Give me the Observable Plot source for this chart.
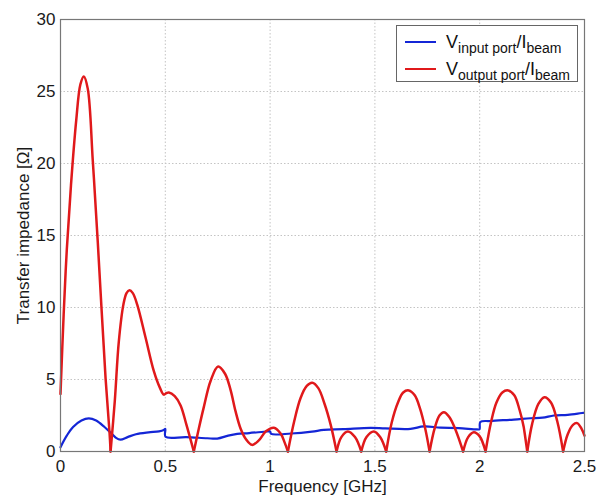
<!DOCTYPE html>
<html>
<head>
<meta charset="utf-8">
<script src="https://cdn.jsdelivr.net/npm/d3@7"></script>
<script src="https://cdn.jsdelivr.net/npm/@observablehq/plot@0.6"></script>
<style>
  body { margin: 0; background: #fff; }
  #wrap { position: relative; width: 597px; height: 497px; font-family: "Liberation Sans", Arial, sans-serif; }
  #legend { position: absolute; left: 396px; top: 25px; width: 182px; height: 57px; border: 1px solid #666; background: #fff; box-sizing: border-box; }
  .row { position: absolute; left: 8px; height: 26px; display: flex; align-items: center; }
  .swatch { width: 31px; height: 0; border-top: 2.5px solid; margin-right: 10px; }
  .lab { font-size: 18px; color: #111; white-space: nowrap; line-height: 18px; }
  .lab sub { font-size: 14px; vertical-align: -5px; line-height: 0; }
</style>
</head>
<body>
<div id="wrap"></div>
<script>
// ---- data ----
const xTicks = [0, 0.5, 1, 1.5, 2, 2.5];
const yTicks = [0, 5, 10, 15, 20, 25, 30];
const xLabel = "Frequency [GHz]";
const yLabel = "Transfer impedance [Ω]";
const seriesMain = ["V", "V"];
const seriesSub = ["input port", "output port"];
const denomMain = "I";
const denomSub = "beam";
const seriesColors = ["#1426d6", "#e0191b"];

// V_input port / I_beam  (blue)
const blueFreq = [0, 0.03, 0.06, 0.1, 0.135, 0.17, 0.21, 0.24, 0.265, 0.286, 0.32, 0.36, 0.42, 0.47, 0.493, 0.5, 0.501, 0.6, 0.7, 0.748, 0.8, 0.843, 0.9, 0.986, 1.0, 1.005, 1.1, 1.2, 1.256, 1.35, 1.479, 1.55, 1.67, 1.733, 1.813, 1.9, 1.988, 1.999, 2.003, 2.05, 2.163, 2.242, 2.3, 2.354, 2.42, 2.497];
const blueImp  = [0.3, 1.1, 1.7, 2.15, 2.3, 2.15, 1.7, 1.3, 0.95, 0.83, 1.0, 1.2, 1.33, 1.4, 1.5, 1.57, 1.02, 1.0, 0.92, 0.9, 1.1, 1.22, 1.28, 1.39, 1.4, 1.22, 1.25, 1.38, 1.5, 1.55, 1.64, 1.6, 1.57, 1.74, 1.66, 1.63, 1.53, 1.55, 2.05, 2.12, 2.22, 2.31, 2.35, 2.5, 2.55, 2.69];

// V_output port / I_beam  (red)
const redFreq = [0, 0.015, 0.03, 0.05, 0.075, 0.095, 0.111, 0.13, 0.154, 0.178, 0.215, 0.234, 0.239,
  0.259, 0.278, 0.3, 0.315, 0.329, 0.345, 0.366, 0.406, 0.445, 0.475, 0.493, 0.505, 0.517, 0.545, 0.573, 0.6, 0.636,
  0.66, 0.684, 0.716, 0.752, 0.785, 0.811, 0.835, 0.859, 0.885, 0.914, 0.945, 0.98, 1.018, 1.05, 1.07, 1.085,
  1.115, 1.145, 1.175, 1.201, 1.23, 1.26, 1.29, 1.317,
  1.34, 1.371, 1.405, 1.435,
  1.46, 1.495, 1.525, 1.554,
  1.58, 1.61, 1.635, 1.662, 1.69, 1.715, 1.74, 1.761,
  1.785, 1.808, 1.829, 1.855, 1.885, 1.921,
  1.945, 1.972, 2.0, 2.028,
  2.055, 2.08, 2.108, 2.136, 2.165, 2.19, 2.21, 2.227,
  2.25, 2.28, 2.309, 2.34, 2.37, 2.398,
  2.42, 2.445, 2.465, 2.485, 2.5];
const redImp = [4.0, 9.5, 14.0, 18.5, 23.0, 25.5, 26.05, 25.2, 20.2, 14.5, 5.1, 1.3, 0,
  3.5, 7.6, 10.2, 11.0, 11.2, 11.0, 10.2, 7.9, 5.6, 4.4, 3.95, 4.05, 4.1, 3.85, 3.2, 1.9, 0,
  1.6, 3.1, 4.9, 5.9, 5.4, 4.3, 2.8, 1.6, 0.85, 0.46, 0.75, 1.4, 1.65, 1.25, 0.6, 0,
  2.1, 3.7, 4.55, 4.77, 4.4, 3.3, 1.8, 0,
  1.0, 1.39, 1.0, 0,
  1.0, 1.39, 1.0, 0,
  2.0, 3.4, 4.1, 4.24, 3.9, 3.0, 1.6, 0,
  1.6, 2.5, 2.73, 2.4, 1.5, 0,
  1.0, 1.34, 1.05, 0,
  2.1, 3.4, 4.1, 4.24, 3.9, 2.9, 1.7, 0,
  1.9, 3.3, 3.77, 3.4, 2.1, 0,
  1.2, 1.85, 1.97, 1.6, 1.1];

// ---- build tables ----
const blue = blueFreq.map((f, i) => ({f, v: blueImp[i]}));
// split the red curve into lobes at its zeros so each zero is a sharp cusp
const red = [];
let seg = 0;
redFreq.forEach((f, i) => {
  const v = redImp[i];
  red.push({f, v, seg});
  if (v === 0 && i > 0 && i < redFreq.length - 1) { seg++; red.push({f, v, seg}); }
});

const plot = Plot.plot({
  width: 597,
  height: 497,
  marginLeft: 60,
  marginRight: 13,
  marginTop: 19,
  marginBottom: 46,
  style: {fontFamily: "'Liberation Sans', Arial, sans-serif", color: "#1a1a1a", background: "#fff"},
  x: {domain: [0, 2.5]},
  y: {domain: [0, 30]},
  marks: [
    Plot.gridX(xTicks.slice(1, -1), {stroke: "#c4c4c4", strokeOpacity: 1, strokeDasharray: "1.5,2"}),
    Plot.gridY(yTicks.slice(1, -1), {stroke: "#c4c4c4", strokeOpacity: 1, strokeDasharray: "1.5,2"}),
    Plot.line(blue, {x: "f", y: "v", stroke: seriesColors[0], strokeWidth: 2.2, curve: "catmull-rom"}),
    Plot.line(red, {x: "f", y: "v", z: "seg", stroke: seriesColors[1], strokeWidth: 2.5, curve: "catmull-rom"}),
    Plot.frame({stroke: "#777", strokeWidth: 1.2}),
    Plot.axisX(xTicks, {tickSize: 0, tickPadding: 8, fontSize: 17, tickFormat: d => String(d),
      label: xLabel, labelAnchor: "center", labelOffset: 40, labelArrow: "none"}),
    Plot.axisY(yTicks, {tickSize: 0, tickPadding: 5, fontSize: 17, tickFormat: d => String(d),
      label: yLabel, labelAnchor: "center", labelOffset: 44, labelArrow: "none"})
  ]
});

const wrap = document.getElementById("wrap");
wrap.appendChild(plot);

// legend (HTML overlay, like a MATLAB legend box inside the axes)
const legend = document.createElement("div");
legend.id = "legend";
seriesMain.forEach((m, i) => {
  const row = document.createElement("div");
  row.className = "row";
  row.style.top = (3 + i * 27) + "px";
  const sw = document.createElement("div");
  sw.className = "swatch";
  sw.style.borderTopColor = seriesColors[i];
  const lab = document.createElement("span");
  lab.className = "lab";
  lab.innerHTML = `${m}<sub>${seriesSub[i]}</sub>/${denomMain}<sub>${denomSub}</sub>`;
  row.appendChild(sw);
  row.appendChild(lab);
  legend.appendChild(row);
});
wrap.appendChild(legend);
</script>
</body>
</html>
